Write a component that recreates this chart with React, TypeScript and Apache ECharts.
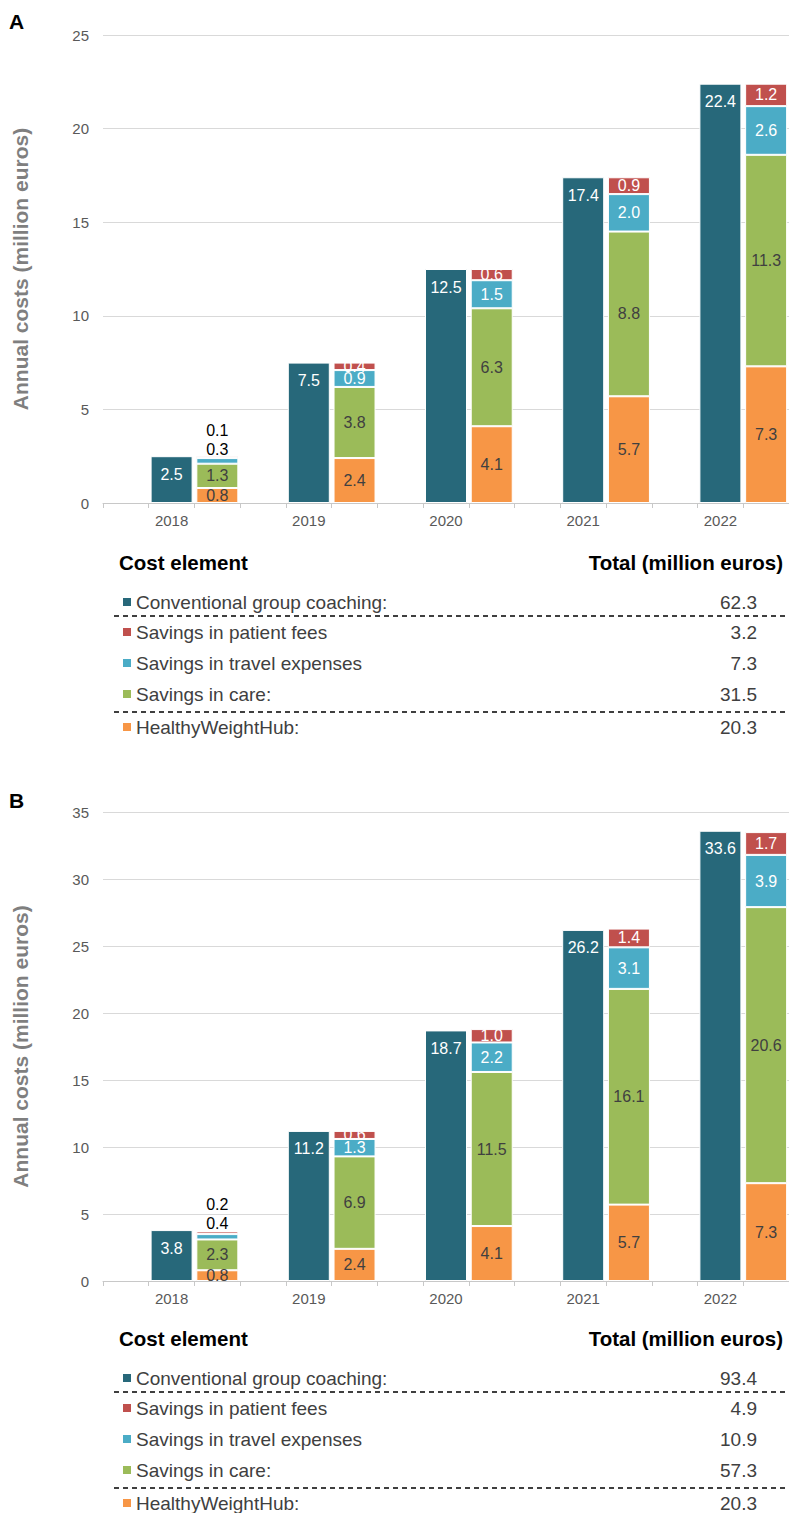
import React, { useEffect, useRef } from "react";
import * as echarts from "echarts";

const years = ["2018", "2019", "2020", "2021", "2022"];

// Panel A
const convA = [2.5, 7.5, 12.5, 17.4, 22.4];
const hwhA = [0.8, 2.4, 4.1, 5.7, 7.3];
const careA = [1.3, 3.8, 6.3, 8.8, 11.3];
const travelA = [0.3, 0.9, 1.5, 2.0, 2.6];
const feesA = [0.1, 0.4, 0.6, 0.9, 1.2];

// Panel B
const convB = [3.8, 11.2, 18.7, 26.2, 33.6];
const hwhB = [0.8, 2.4, 4.1, 5.7, 7.3];
const careB = [2.3, 6.9, 11.5, 16.1, 20.6];
const travelB = [0.4, 1.3, 2.2, 3.1, 3.9];
const feesB = [0.2, 0.6, 1.0, 1.4, 1.7];

const yTicksA = { min: 0, max: 25, interval: 5 };
const yTicksB = { min: 0, max: 35, interval: 5 };

const costElements = [
  "Conventional group coaching:",
  "Savings in patient fees",
  "Savings in travel expenses",
  "Savings in care:",
  "HealthyWeightHub:",
];
const totalsA = ["62.3", "3.2", "7.3", "31.5", "20.3"];
const totalsB = ["93.4", "4.9", "10.9", "57.3", "20.3"];

const C_CONV = "#27687A";
const C_FEES = "#C0504D";
const C_TRAVEL = "#4BACC6";
const C_CARE = "#9BBB59";
const C_HWH = "#F79646";
const rowColors = [C_CONV, C_FEES, C_TRAVEL, C_CARE, C_HWH];

const FONT = "'Liberation Sans', Arial, Helvetica, sans-serif";

function slots(values: any[], offset: number) {
  const arr: any[] = [];
  values.forEach((v, i) => {
    arr[3 * i] = "-";
    arr[3 * i + 1] = "-";
    arr[3 * i + 2] = "-";
    arr[3 * i + offset] = v;
  });
  return arr;
}

function withTopLabel(arr: any[], idx: number, distance: number) {
  const out = arr.slice();
  out[idx] = {
    value: arr[idx],
    label: { position: "top", distance, color: "#000000" },
  };
  return out;
}

const fmt = (p: any) => Number(p.value).toFixed(1);

function makeSeries(
  gi: number,
  conv: number[],
  hwh: number[],
  care: number[],
  travel: number[],
  fees: number[],
  travelDist: number,
  feesDist: number
) {
  const stack = "s" + gi;
  const base = {
    type: "bar",
    xAxisIndex: gi,
    yAxisIndex: gi,
    stack,
    barWidth: 42,
    itemStyle: { borderColor: "#ffffff", borderWidth: 1 },
  };
  const lbl = (color: string) => ({
    show: true,
    position: "inside",
    color,
    fontSize: 16,
    fontFamily: FONT,
    formatter: fmt,
  });
  return [
    { ...base, name: "HealthyWeightHub", data: slots(hwh, 2), itemStyle: { ...base.itemStyle, color: C_HWH }, label: lbl("#404040") },
    { ...base, name: "Savings in care", data: slots(care, 2), itemStyle: { ...base.itemStyle, color: C_CARE }, label: lbl("#404040") },
    {
      ...base,
      name: "Savings in travel expenses",
      data: withTopLabel(slots(travel, 2), 2, travelDist),
      itemStyle: { ...base.itemStyle, color: C_TRAVEL },
      label: lbl("#ffffff"),
    },
    {
      ...base,
      name: "Savings in patient fees",
      data: withTopLabel(slots(fees, 2), 2, feesDist),
      itemStyle: { ...base.itemStyle, color: C_FEES },
      label: lbl("#ffffff"),
    },
    {
      ...base,
      name: "Conventional group coaching",
      data: slots(conv, 1),
      itemStyle: { ...base.itemStyle, color: C_CONV },
      label: { ...lbl("#ffffff"), position: "insideTop", distance: 10 },
    },
  ];
}

function tableGraphics(top: number, totals: string[]) {
  const els: any[] = [];
  els.push({
    type: "text",
    style: { text: "Cost element", x: 119, y: top, font: `bold 20.5px ${FONT}`, fill: "#000000", textVerticalAlign: "middle" },
  });
  els.push({
    type: "text",
    style: { text: "Total (million euros)", x: 783, y: top, font: `bold 20.5px ${FONT}`, fill: "#000000", textAlign: "right", textVerticalAlign: "middle" },
  });
  els.push({
    type: "line",
    shape: { x1: 114, y1: top + 18, x2: 789, y2: top + 18 },
    style: { stroke: "#000000", lineWidth: 3, shadowBlur: 3, shadowColor: "rgba(0,0,0,0.45)", shadowOffsetY: 2 },
  });
  const rowOffsets = [40, 70, 101, 132, 165];
  costElements.forEach((name, i) => {
    const y = top + rowOffsets[i];
    els.push({ type: "rect", shape: { x: 123, y: y - 4, width: 8, height: 8 }, style: { fill: rowColors[i] } });
    els.push({
      type: "text",
      style: { text: name, x: 136, y, font: `19px ${FONT}`, fill: "#404040", textVerticalAlign: "middle" },
    });
    els.push({
      type: "text",
      style: { text: totals[i], x: 757, y, font: `19px ${FONT}`, fill: "#404040", textAlign: "right", textVerticalAlign: "middle" },
    });
  });
  [54, 150].forEach((d) => {
    els.push({
      type: "line",
      shape: { x1: 114, y1: top + d, x2: 789, y2: top + d },
      style: { stroke: "#000000", lineWidth: 1.3, lineDash: [5, 4] },
    });
  });
  return els;
}

export default function App() {
  const ref = useRef<HTMLDivElement>(null);
  useEffect(() => {
    document.body.style.margin = "0";
    if (!ref.current) return;
    const chart = echarts.init(ref.current, undefined, { renderer: "svg" });
    const cats: string[] = [];
    years.forEach((y) => cats.push("", y, ""));
    const xAxis = (gi: number) => ({
      type: "category",
      gridIndex: gi,
      data: cats,
      axisLine: { lineStyle: { color: "#C8C8C8" } },
      axisTick: { show: true, interval: 0, alignWithLabel: false, length: 5, lineStyle: { color: "#C8C8C8" } },
      axisLabel: { interval: 0, color: "#595959", fontSize: 15, fontFamily: FONT, margin: 10 },
    });
    const yAxis = (gi: number, t: any) => ({
      type: "value",
      gridIndex: gi,
      min: t.min,
      max: t.max,
      interval: t.interval,
      name: "Annual costs (million euros)",
      nameLocation: "middle",
      nameGap: 72,
      nameTextStyle: { color: "#7F7F7F", fontSize: 21, fontWeight: "bold", fontFamily: FONT },
      axisLine: { show: false },
      axisTick: { show: false },
      axisLabel: { color: "#595959", fontSize: 15, fontFamily: FONT, margin: 14 },
      splitLine: { lineStyle: { color: "#D9D9D9" } },
    });
    const option: any = {
      animation: false,
      textStyle: { fontFamily: FONT },
      grid: [
        { left: 103, top: 35, width: 687, height: 468 },
        { left: 103, top: 812, width: 687, height: 469 },
      ],
      xAxis: [xAxis(0), xAxis(1)],
      yAxis: [yAxis(0, yTicksA), yAxis(1, yTicksB)],
      series: [
        ...makeSeries(0, convA, hwhA, careA, travelA, feesA, 1, 18),
        ...makeSeries(1, convB, hwhB, careB, travelB, feesB, 3, 19),
      ],
      graphic: [
        { type: "text", style: { text: "A", x: 9, y: 11, font: `bold 21px ${FONT}`, fill: "#000000" } },
        { type: "text", style: { text: "B", x: 9, y: 790, font: `bold 21px ${FONT}`, fill: "#000000" } },
        ...tableGraphics(562, totalsA),
        ...tableGraphics(1338, totalsB),
      ],
    };
    chart.setOption(option);
    return () => chart.dispose();
  }, []);
  return <div ref={ref} style={{ width: 789, height: 1513 }} />;
}
